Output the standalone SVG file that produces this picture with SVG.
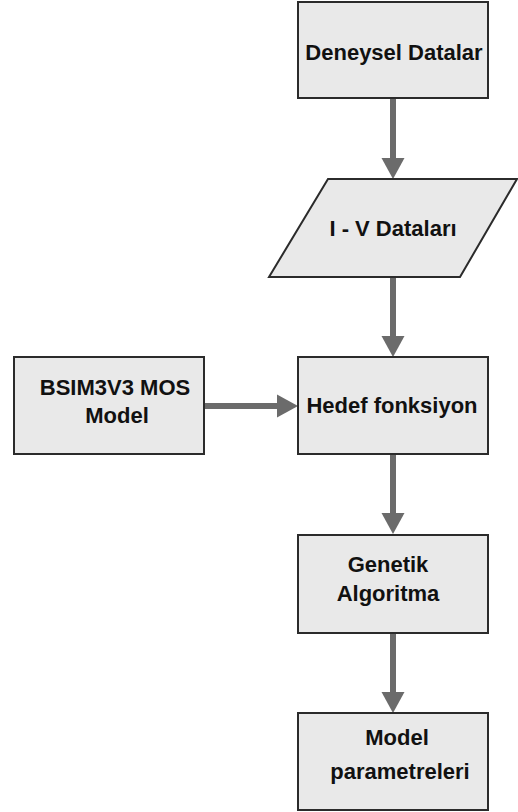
<svg xmlns="http://www.w3.org/2000/svg" width="518" height="812" viewBox="0 0 518 812">
<style>
.box{fill:#e9e9e9;stroke:#2b2b2b;stroke-width:2}
.t{font-family:"Liberation Sans",Arial,sans-serif;font-weight:bold;font-size:22px;fill:#111;text-anchor:middle}
.c{stroke:#6b6b6b;stroke-width:6;fill:none}
</style>
<defs>
<marker id="ah" markerUnits="userSpaceOnUse" markerWidth="22" markerHeight="24" refX="15" refY="12" orient="auto" viewBox="0 0 22 24">
<path d="M0,0.5 L21,12 L0,23.5 z" fill="#6b6b6b"/>
</marker>
</defs>
<g id="connectors">
<line class="c" x1="393" y1="98" x2="393" y2="173" marker-end="url(#ah)"/>
<line class="c" x1="393" y1="277" x2="393" y2="351" marker-end="url(#ah)"/>
<line class="c" x1="204" y1="406" x2="292" y2="406" marker-end="url(#ah)"/>
<line class="c" x1="393" y1="454" x2="393" y2="528" marker-end="url(#ah)"/>
<line class="c" x1="393" y1="633" x2="393" y2="707" marker-end="url(#ah)"/>
</g>
<g id="deneysel">
<rect class="box" x="298" y="2" width="190" height="96"/>
<text class="t" x="394" y="60">Deneysel Datalar</text>
</g>
<g id="iv">
<polygon class="box" points="328,179 517,179 460,277 269,277"/>
<text class="t" x="393" y="236">I - V Dataları</text>
</g>
<g id="bsim">
<rect class="box" x="14" y="357" width="190" height="97"/>
<text class="t" x="115" y="395">BSIM3V3 MOS</text>
<text class="t" x="117" y="423">Model</text>
</g>
<g id="hedef">
<rect class="box" x="298" y="357" width="190" height="97"/>
<text class="t" x="392" y="413">Hedef fonksiyon</text>
</g>
<g id="genetik">
<rect class="box" x="298" y="535" width="190" height="98"/>
<text class="t" x="388" y="572">Genetik</text>
<text class="t" x="388" y="601">Algoritma</text>
</g>
<g id="model">
<rect class="box" x="298" y="713" width="190" height="97"/>
<text class="t" x="397" y="745">Model</text>
<text class="t" x="400" y="779">parametreleri</text>
</g>
</svg>
